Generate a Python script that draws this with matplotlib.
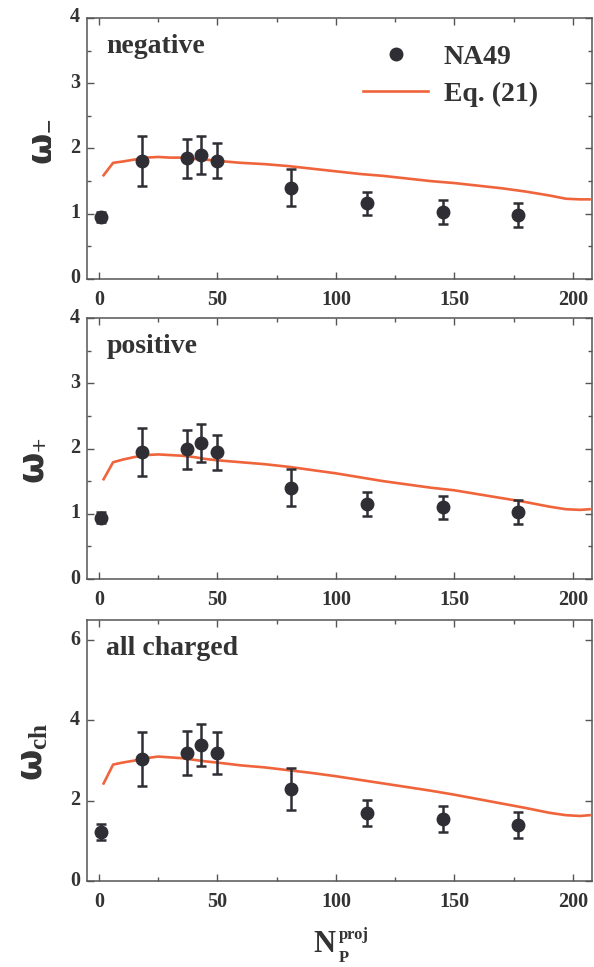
import matplotlib
matplotlib.use("Agg")
import matplotlib.pyplot as plt
import matplotlib.transforms as mtransforms
from matplotlib.ticker import MultipleLocator

plt.rcParams["font.family"] = ["Liberation Serif", "DejaVu Serif"]
plt.rcParams["font.weight"] = "bold"
plt.rcParams["mathtext.fontset"] = "custom"
plt.rcParams["mathtext.rm"] = "Liberation Serif:bold"
plt.rcParams["mathtext.bf"] = "Liberation Serif:bold"
plt.rcParams["mathtext.it"] = "Liberation Serif:bold"
plt.rcParams["mathtext.sf"] = "DejaVu Sans:bold"

TXT = "#333333"
DOT = "#2e2e34"
LINE = "#f0643c"
SPINE = "#555555"

# NA49 points
n_proj = [1, 18, 37, 43, 50, 81, 113, 145, 177]
w_neg = [0.95, 1.81, 1.85, 1.90, 1.81, 1.40, 1.16, 1.03, 0.98]
w_neg_err = [0.08, 0.38, 0.30, 0.29, 0.27, 0.28, 0.18, 0.18, 0.18]
w_pos = [0.94, 1.95, 1.99, 2.09, 1.94, 1.40, 1.15, 1.10, 1.03]
w_pos_err = [0.08, 0.37, 0.30, 0.29, 0.27, 0.28, 0.18, 0.18, 0.18]
w_ch = [1.21, 3.04, 3.19, 3.39, 3.19, 2.30, 1.69, 1.54, 1.39]
w_ch_err = [0.20, 0.68, 0.55, 0.53, 0.53, 0.52, 0.32, 0.32, 0.32]

# Eq. (21) curves
x_eq = [2, 6, 10, 15, 20, 25, 30, 35, 40, 45, 50, 60, 70, 80, 90, 100,
        110, 120, 130, 140, 150, 160, 170, 180, 190, 197, 203, 207]
eq_neg = [1.59, 1.78, 1.80, 1.83, 1.86, 1.87, 1.86, 1.86, 1.84, 1.83, 1.81,
          1.78, 1.76, 1.73, 1.69, 1.65, 1.61, 1.58, 1.54, 1.50, 1.47, 1.43,
          1.39, 1.34, 1.28, 1.23, 1.22, 1.22]
eq_pos = [1.53, 1.79, 1.83, 1.87, 1.90, 1.91, 1.90, 1.89, 1.87, 1.84, 1.82,
          1.79, 1.76, 1.72, 1.67, 1.62, 1.56, 1.50, 1.45, 1.40, 1.36, 1.30,
          1.24, 1.18, 1.11, 1.07, 1.06, 1.07]
eq_ch = [2.43, 2.90, 2.95, 3.00, 3.06, 3.10, 3.08, 3.06, 3.02, 2.98, 2.95,
         2.88, 2.83, 2.76, 2.69, 2.61, 2.52, 2.43, 2.34, 2.25, 2.15, 2.04,
         1.93, 1.82, 1.70, 1.64, 1.62, 1.64]

# name, y label, data, errors, curve, ymax, major step, minor step, label centre (px)
panels = [
    ("negative", "$\\mathsf{ω}_{\u2212}$", w_neg, w_neg_err, eq_neg, 4.0, 1, 0.5, (40, 142)),
    ("positive", "$\\mathsf{ω}_{+}$", w_pos, w_pos_err, eq_pos, 4.0, 1, 0.5, (33, 461)),
    ("all charged", "$\\mathsf{ω}_{\\mathbf{ch}}$", w_ch, w_ch_err, eq_ch, 6.5, 2, None, (34, 752)),
]

W, H = 594, 967
fig = plt.figure(figsize=(W / 100, H / 100), dpi=100)
left, width, height = 0.1465, 0.850, 0.2699
bottoms = [0.7115, 0.4012, 0.0889]
lift = mtransforms.ScaledTranslation(0, 0.03, fig.dpi_scale_trans)

axes = []
for (name, ylab, y, yerr, eq, ymax, major, minor, lab_xy), b in zip(panels, bottoms):
    ax = fig.add_axes([left, b, width, height])
    axes.append(ax)
    ax.errorbar(n_proj, y, yerr=yerr, fmt="none", ecolor=DOT,
                elinewidth=1.8, capsize=3.5, capthick=1.8, zorder=3)
    ax.plot(n_proj, y, "o", color=DOT, ms=9, zorder=4, label="NA49")
    ax.plot(x_eq, eq, "-", color=LINE, lw=1.9, zorder=2, label="Eq. (21)")

    ax.set_xlim(-5, 208)
    ax.set_ylim(0, ymax)
    ax.xaxis.set_major_locator(MultipleLocator(50))
    ax.xaxis.set_minor_locator(MultipleLocator(25))
    ax.yaxis.set_major_locator(MultipleLocator(major))
    if minor:
        ax.yaxis.set_minor_locator(MultipleLocator(minor))
    ax.tick_params(which="both", direction="in", top=True, right=True,
                   color=SPINE, labelcolor=TXT, labelsize=14.5)
    ax.tick_params(which="major", length=5, width=1)
    ax.tick_params(which="minor", length=3, width=1)
    ax.tick_params(axis="x", pad=8)
    ax.tick_params(axis="y", pad=5)
    for lbl in ax.get_yticklabels():
        lbl.set_transform(lbl.get_transform() + lift)
    for s in ax.spines.values():
        s.set_color(SPINE)
        s.set_linewidth(1.1)

    ax.text(0.038, 0.89, name, transform=ax.transAxes, fontsize=20,
            color=TXT, va="center", ha="left")
    fig.text(lab_xy[0] / W, 1 - lab_xy[1] / H, ylab, rotation=90,
             fontsize=26, color=TXT, ha="center", va="center")

leg = axes[0].legend(loc="upper left", bbox_to_anchor=(0.547, 0.90),
                     frameon=False, fontsize=20, handlelength=2.35,
                     handletextpad=0.55, labelspacing=0.42, borderpad=0,
                     borderaxespad=0, numpoints=1)
for t in leg.get_texts():
    t.set_color(TXT)

# x label N_P^proj built from pieces, sub/superscripts much smaller than N
fig.text(313 / W, 1 - 952 / H, "N", fontsize=22, color=TXT,
         fontweight="bold", va="baseline", ha="left")
fig.text(339 / W, 1 - 939 / H, "proj", fontsize=12, color=TXT,
         fontweight="bold", va="baseline", ha="left")
fig.text(339 / W, 1 - 962 / H, "P", fontsize=12, color=TXT,
         fontweight="bold", va="baseline", ha="left")

fig.savefig("out.png", dpi=100)
